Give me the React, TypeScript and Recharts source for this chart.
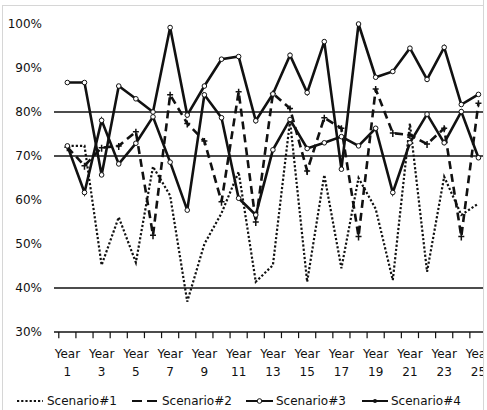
import { LineChart, Line, XAxis, YAxis, ReferenceLine } from "recharts";

const years = [1, 2, 3, 4, 5, 6, 7, 8, 9, 10, 11, 12, 13, 14, 15, 16, 17, 18, 19, 20, 21, 22, 23, 24, 25];
const scenario1 = [72.3, 72.3, 45.2, 56.1, 45.8, 67.6, 61, 36.9, 50, 57, 66.4, 41.4, 45.2, 78, 41.4, 65.7, 44.5, 65, 58, 41.8, 77.4, 43.7, 65.3, 56.6, 59.2];
const scenario2 = [72, 67.8, 71.9, 72.3, 75.5, 52, 83.9, 77.4, 73.4, 59.6, 84.6, 55, 84.2, 80.8, 66.6, 78.7, 76.3, 51.7, 85.2, 75.2, 74.8, 72.7, 76.3, 51.7, 82];
const scenario3 = [86.7, 86.7, 65.7, 85.9, 83, 80, 99.2, 79.3, 85.9, 92, 92.6, 78, 84.1, 92.9, 84.4, 96, 67, 100, 87.9, 89.2, 94.5, 87.4, 94.7, 81.7, 84];
const scenario4 = [72.3, 61.7, 78.1, 68.2, 72.9, 78.9, 68.6, 57.7, 83.9, 78.7, 60.4, 56.6, 71.4, 78.3, 71.7, 73, 74.4, 72.3, 76.3, 61.7, 73, 79.5, 73, 80.1, 69.6];

const yTicks = [30, 40, 50, 60, 70, 80, 90, 100];
const gridLevels = [40, 70, 80];
const labelYears = [1, 3, 5, 7, 9, 11, 13, 15, 17, 19, 21, 23, 25];
const boundaries = [0.5, 1.5, 2.5, 3.5, 4.5, 5.5, 6.5, 7.5, 8.5, 9.5, 10.5, 11.5, 12.5, 13.5, 14.5, 15.5, 16.5, 17.5, 18.5, 19.5, 20.5, 21.5, 22.5, 23.5, 24.5, 25.5];

const data = years.map((year, i) => ({
  year,
  s1: scenario1[i],
  s2: scenario2[i],
  s3: scenario3[i],
  s4: scenario4[i],
}));

const FONT = "'DejaVu Sans', Verdana, sans-serif";
const INK = "#111";

const YearTick = ({ x, y, payload }: any) => (
  <text x={x} y={y} textAnchor="middle" fontSize={12} fill={INK} fontFamily={FONT}>
    <tspan x={x} dy={26}>Year</tspan>
    <tspan x={x} dy={18}>{payload.value}</tspan>
  </text>
);

const RingDot = ({ cx, cy }: any) => (
  <circle cx={cx} cy={cy} r={2.3} fill="#fff" stroke={INK} strokeWidth={1} />
);

const PlusDot = ({ cx, cy }: any) => (
  <path d={`M${cx - 3},${cy}H${cx + 3}M${cx},${cy - 3}V${cy + 4}`} stroke={INK} strokeWidth={1.5} fill="none" />
);

function LegendRow() {
  return (
    <svg width={487} height={20} style={{ position: "absolute", left: 0, top: 390 }}>
      <g fontFamily={FONT} fontSize={12} fill={INK}>
        <line x1={17} x2={43} y1={11} y2={11} stroke={INK} strokeWidth={2.2} strokeDasharray="2.2 2" />
        <text x={47} y={15}>Scenario#1</text>
        <line x1={132} x2={158} y1={11} y2={11} stroke={INK} strokeWidth={2} strokeDasharray="10 5" />
        <text x={162} y={15}>Scenario#2</text>
        <line x1={246} x2={273} y1={11} y2={11} stroke={INK} strokeWidth={2} />
        <circle cx={259.5} cy={11} r={2.3} fill="#fff" stroke={INK} />
        <text x={276} y={15}>Scenario#3</text>
        <line x1={362} x2={388} y1={11} y2={11} stroke={INK} strokeWidth={2} />
        <circle cx={375} cy={11} r={2} fill={INK} />
        <text x={391} y={15}>Scenario#4</text>
      </g>
    </svg>
  );
}

export default function App() {
  return (
    <div style={{ position: "absolute", left: 0, top: 0, width: 487, height: 410, background: "#fff", overflow: "hidden" }}>
      <LineChart width={487} height={410} data={data} margin={{ top: 24, right: 0, bottom: 38, left: 0 }}>
        <XAxis
          dataKey="year"
          type="number"
          domain={[0.22, 25.5]}
          ticks={labelYears}
          tick={<YearTick />}
          tickLine={false}
          tickSize={0}
          tickMargin={0}
          axisLine={{ stroke: INK, strokeWidth: 1.3 }}
          height={40}
          interval={0}
        />
        <YAxis
          domain={[30, 100]}
          ticks={yTicks}
          tickFormatter={(v: number) => `${v}%`}
          tick={{ fill: INK, fontSize: 12, fontFamily: FONT }}
          axisLine={false}
          tickLine={false}
          tickSize={6}
          tickMargin={6}
          width={54}
        />
        {gridLevels.map((v) => (
          <ReferenceLine key={v} y={v} stroke={INK} strokeWidth={1.3} />
        ))}
        {/* short marks between categories, hanging below the baseline */}
        {boundaries.map((b) => (
          <ReferenceLine
            key={`b${b}`}
            segment={[{ x: b, y: 30 }, { x: b, y: 28.6 }]}
            ifOverflow="visible"
            stroke={INK}
            strokeWidth={1.2}
          />
        ))}
        <Line dataKey="s1" name="Scenario#1" stroke={INK} strokeWidth={2.2} strokeDasharray="2.2 2" dot={false} isAnimationActive={false} />
        <Line dataKey="s2" name="Scenario#2" stroke={INK} strokeWidth={2.6} strokeDasharray="8 5" dot={<PlusDot />} isAnimationActive={false} />
        <Line dataKey="s3" name="Scenario#3" stroke={INK} strokeWidth={2.6} dot={<RingDot />} isAnimationActive={false} />
        <Line dataKey="s4" name="Scenario#4" stroke={INK} strokeWidth={2.6} dot={<RingDot />} isAnimationActive={false} />
      </LineChart>
      <LegendRow />
      {/* thin frame around the chart, clipping its right edge */}
      <div style={{ position: "absolute", left: 2, top: 5, width: 481, height: 410, borderLeft: "1.5px solid #d6d6d6", borderTop: "1.5px solid #d6d6d6", pointerEvents: "none" }} />
      <div style={{ position: "absolute", left: 483, top: 0, width: 4, height: 410, background: "#fff", borderLeft: "1.5px solid #d6d6d6" }} />
    </div>
  );
}
